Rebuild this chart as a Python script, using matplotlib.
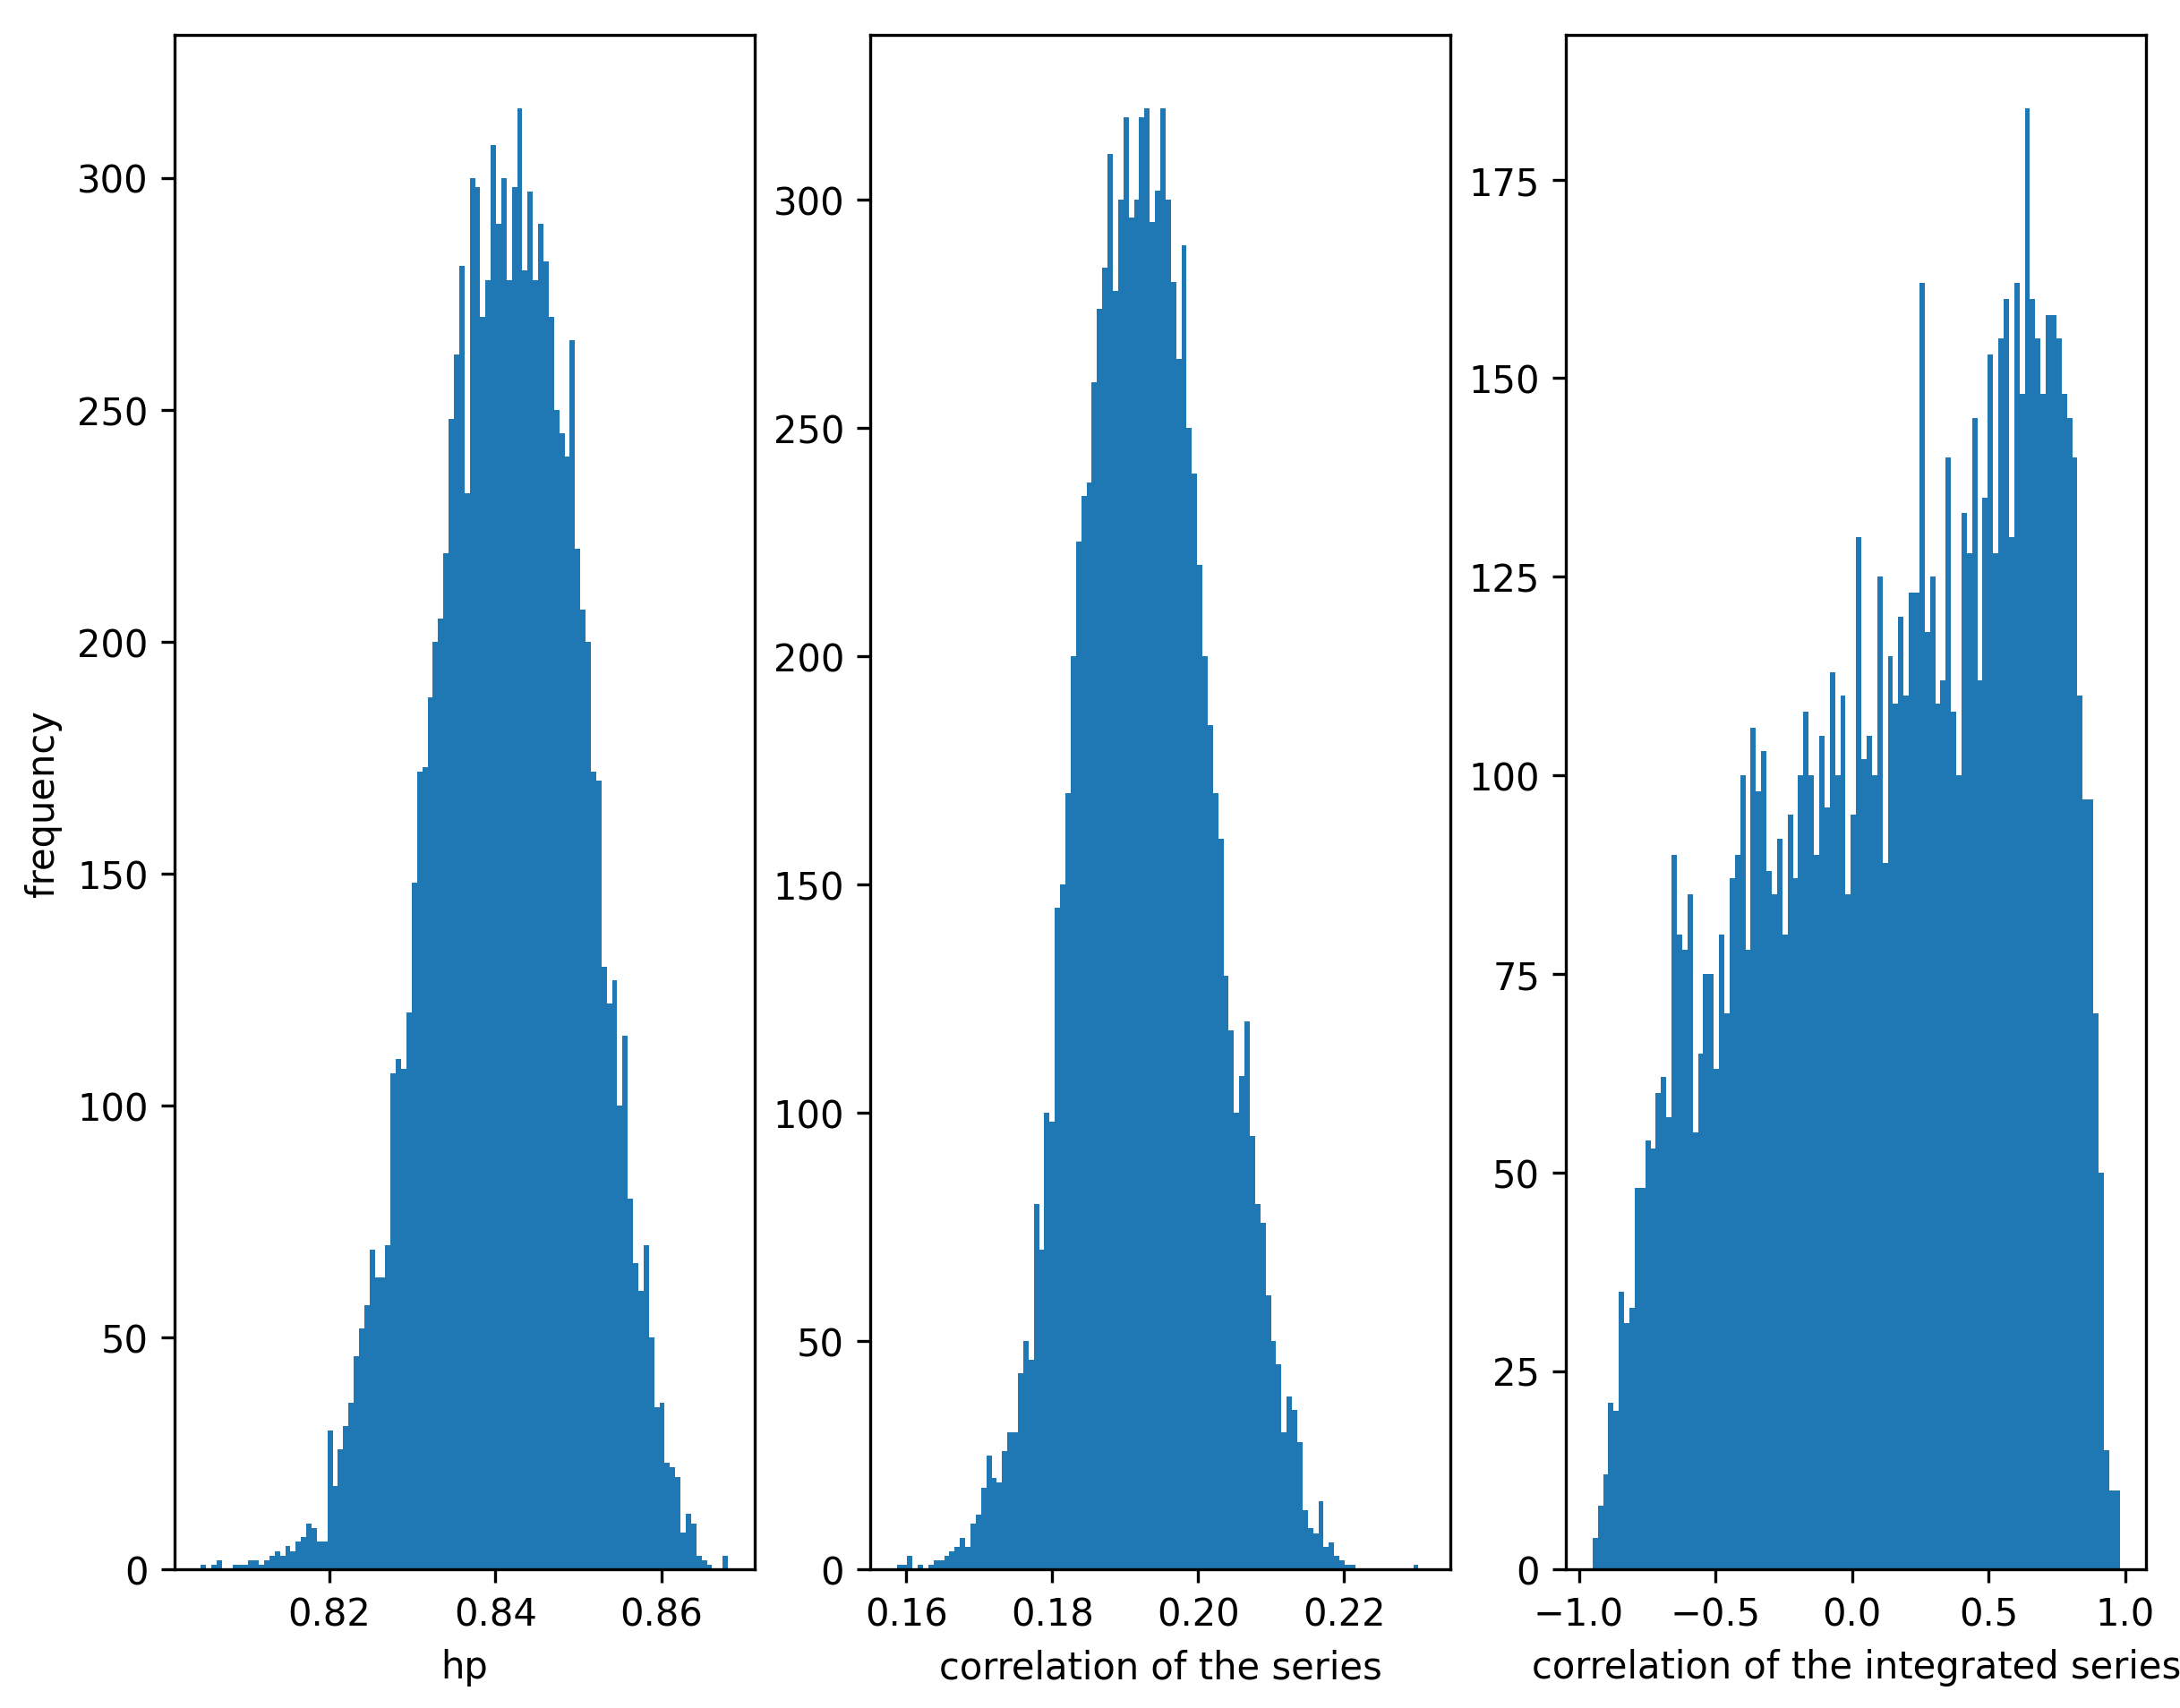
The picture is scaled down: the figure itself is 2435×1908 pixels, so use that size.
import numpy as np
import matplotlib
matplotlib.use("Agg")
import matplotlib.pyplot as plt

# bin counts (100 bins per panel)
hp_edges = (0.8045, 0.868)
hp_counts = [1, 0, 1, 2, 0, 0, 1, 1, 1, 2, 2, 1, 2, 3, 4, 3, 5, 4, 6, 7, 10, 9,
             6, 6, 30, 18,
             26, 31, 36, 46, 52, 57, 69, 63, 63, 70, 107, 110, 108, 120, 148, 172,
             173, 188, 200, 205, 219, 248, 262, 281, 232, 300, 298, 270, 278, 307, 290,
             300, 278, 298, 315, 280, 297, 278, 290, 282, 270,
             250, 245, 240, 265, 220, 207, 200, 172, 170, 130,
             122, 127, 100, 115, 80, 66, 60, 70, 50, 35,
             36, 23, 22, 20, 8, 12, 10, 3, 2, 1,
             0, 0, 3]

corr_edges = (0.1587, 0.2309)
corr_counts = [1, 1, 3, 0, 1, 0, 1, 2, 2, 3,
               4, 5, 7, 5, 10, 12, 18, 25, 20, 19,
               26, 30, 30, 43, 50, 46, 80, 70, 100, 98,
               145, 150, 170, 200, 225, 235, 238, 260, 276, 285,
               310, 280, 300, 318, 296, 300, 318, 320, 295, 302,
               320, 300, 282, 265, 290, 250, 240, 220, 200, 185,
               170, 160, 130, 118, 100, 108, 120, 95, 80, 76,
               60, 50, 45, 30, 38, 35, 28, 13, 9, 8,
               15, 5, 6, 3, 2, 1, 1, 0, 0, 0,
               0, 0, 0, 0, 0, 0, 0, 0, 1, 0]

icorr_edges = (-0.95, 0.98)
icorr_counts = [4, 8, 12, 21, 20, 35, 31, 33, 48, 48,
                54, 53, 60, 62, 57, 90, 80, 78, 85, 55,
                65, 75, 75, 63, 80, 70, 87, 90, 100, 78,
                106, 98, 103, 88, 85, 92, 80, 95, 87, 100,
                108, 100, 90, 105, 96, 113, 100, 110, 85, 95,
                130, 102, 105, 100, 125, 89, 115, 109, 120, 110,
                123, 123, 162, 118, 125, 109, 112, 140, 108, 100,
                133, 128, 145, 112, 135, 153, 128, 155, 160, 130,
                162, 148, 184, 160, 155, 148, 158, 158, 155, 148,
                145, 140, 110, 97, 97, 70, 50, 15, 10, 10]

panels = [(hp_edges, hp_counts, "hp"),
          (corr_edges, corr_counts, "correlation of the series"),
          (icorr_edges, icorr_counts, "correlation of the integrated series")]

fig, axes = plt.subplots(1, 3, figsize=(8.12, 6.363), dpi=300)
for ax, (rng, counts, label) in zip(axes, panels):
    edges = np.linspace(rng[0], rng[1], len(counts) + 1)
    ax.hist(edges[:-1], bins=edges, weights=counts, color="#1f77b4")
    ax.set_xlabel(label)
axes[0].set_ylabel("frequency")
axes[0].set_xticks([0.82, 0.84, 0.86])
axes[1].set_xticks([0.16, 0.18, 0.20, 0.22])
axes[2].set_xticks([-1.0, -0.5, 0.0, 0.5, 1.0])
plt.subplots_adjust(left=0.08, right=0.984, top=0.979, bottom=0.081, wspace=0.2)
plt.savefig("out.png", dpi=300)
